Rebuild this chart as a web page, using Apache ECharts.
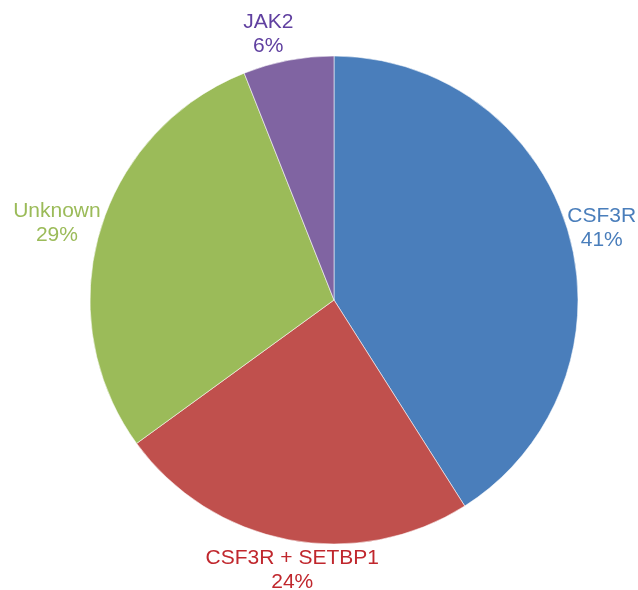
<!DOCTYPE html>
<html><head><meta charset="utf-8">
<script src="https://cdn.jsdelivr.net/npm/echarts@6/dist/echarts.min.js"></script>
<style>html,body{margin:0;padding:0;background:#fff}#c{width:638px;height:590px}</style>
</head><body><div id="c"></div>
<script>
var categories = ['CSF3R', 'CSF3R + SETBP1', 'Unknown', 'JAK2'];
var values = [41, 24, 29, 6];
var sliceColors = ['#4A7EBB', '#C0504D', '#9BBB59', '#8064A2'];
var labelColors = ['#4A7EBB', '#C0272D', '#9BBB59', '#6040A0'];

var CX = 334, CY = 300, R = 244;
// small label nudges (layout only)
var nudge = {'CSF3R': [-1, -4], 'CSF3R + SETBP1': [4, 7], 'Unknown': [1, -9], 'JAK2': [-20, -2]};

var total = values.reduce(function(a,b){return a+b;},0);
var cum = 0, mids = [];
values.forEach(function(v){ mids.push((cum + v/2)/total); cum += v; });

var chart = echarts.init(document.getElementById('c'));
chart.setOption({
  animation: false,
  series: [{
    type: 'pie',
    center: [CX, CY],
    radius: R,
    startAngle: 90,
    clockwise: true,
    data: categories.map(function(c,i){
      return {name: c, value: values[i], itemStyle: {color: sliceColors[i]},
        label: {color: labelColors[i]}};
    }),
    itemStyle: {borderColor: 'rgba(255,255,255,0.55)', borderWidth: 1},
    label: {
      show: true, position: 'inside', overflow: 'none',
      formatter: function(p){ return p.name + '\n' + Math.round(p.percent) + '%'; },
      fontFamily: 'Liberation Sans, Arial, sans-serif',
      fontSize: 21, lineHeight: 24, align: 'center'
    },
    labelLine: {show: false},
    labelLayout: function(p){
      var i = p.dataIndex;
      var a = Math.PI/2 - mids[i]*2*Math.PI;
      var c = Math.cos(a), s = Math.sin(a);
      var w = p.labelRect.width, h = p.labelRect.height;
      var ax = CX + R*c, ay = CY - R*s;
      var x, y;
      if (Math.abs(c) > Math.abs(s)) { x = ax + Math.sign(c)*w/2; y = ay; }
      else { x = ax; y = ay - Math.sign(s)*h/2; }
      var n = nudge[categories[i]] || [0,0];
      return {x: x + n[0], y: y + n[1], align: 'center', verticalAlign: 'middle'};
    }
  }]
});
</script></body></html>
